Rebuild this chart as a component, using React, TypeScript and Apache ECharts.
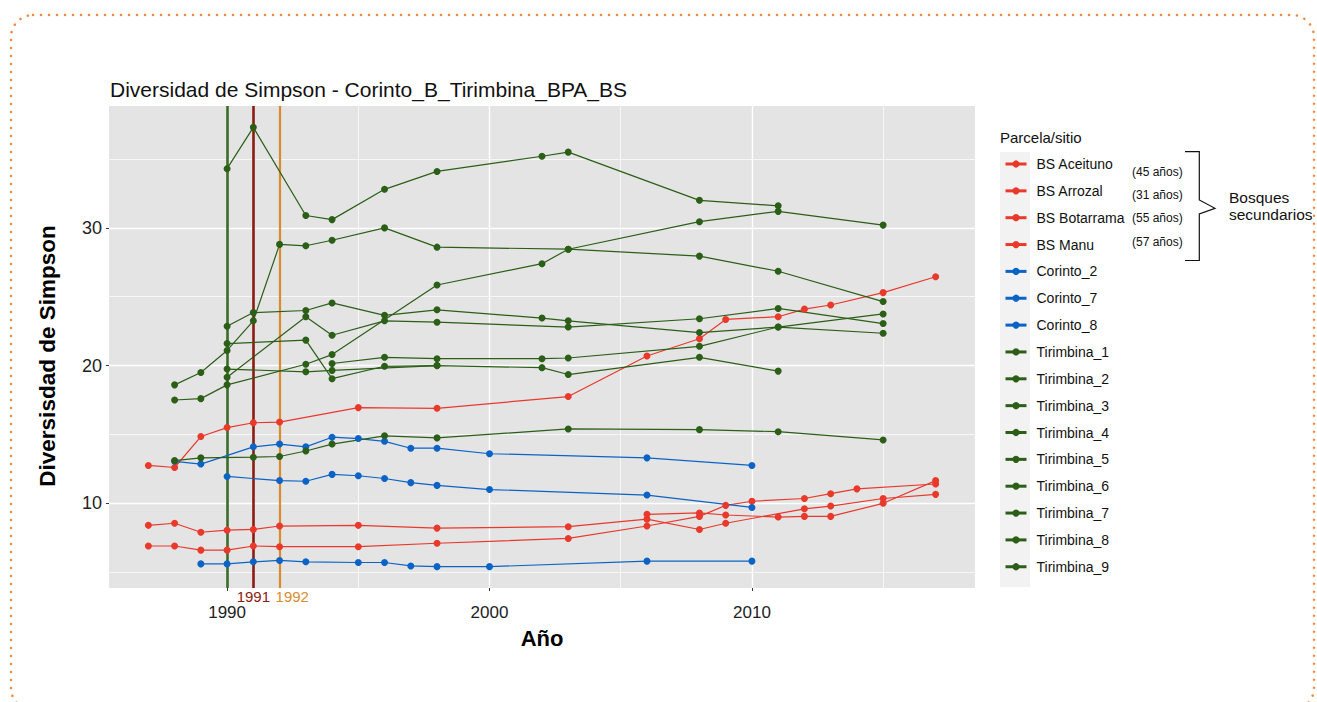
import React, { useEffect, useRef } from 'react';
import * as echarts from 'echarts';

const RED = '#E8392B';
const BLUE = '#0B63C6';
const GREEN = '#2B5E17';
const VGREEN = '#3B6B26';
const VDARKRED = '#8A1C12';
const VORANGE = '#D98C2E';
const FONT = '"Liberation Sans", Arial, sans-serif';

// ---- data ----
const bsAceitunoYears = [1987, 1988, 1989, 1990, 1991, 1992, 1995, 1998, 2003, 2006, 2008, 2009, 2011, 2012, 2013, 2015, 2017];
const bsAceitunoValues = [12.75, 12.6, 14.85, 15.5, 15.85, 15.9, 16.95, 16.9, 17.75, 20.7, 21.95, 23.35, 23.55, 24.1, 24.4, 25.3, 26.45];
const bsArrozalYears = [1987, 1988, 1989, 1990, 1991, 1992, 1995, 1998, 2003, 2006, 2008, 2009, 2012, 2013, 2015, 2017];
const bsArrozalValues = [8.4, 8.55, 7.9, 8.05, 8.1, 8.35, 8.4, 8.2, 8.3, 8.85, 8.1, 8.55, 9.6, 9.8, 10.35, 10.65];
const bsBotarramaYears = [1987, 1988, 1989, 1990, 1991, 1992, 1995, 1998, 2003, 2006, 2008, 2009, 2010, 2012, 2013, 2014, 2017];
const bsBotarramaValues = [6.9, 6.9, 6.6, 6.6, 6.9, 6.85, 6.85, 7.1, 7.45, 8.35, 9.05, 9.85, 10.15, 10.35, 10.7, 11.05, 11.4];
const bsManuYears = [2006, 2008, 2009, 2011, 2012, 2013, 2015, 2017];
const bsManuValues = [9.2, 9.3, 9.15, 9.0, 9.05, 9.05, 10.0, 11.65];

const corinto2Years = [1988, 1989, 1991, 1992, 1993, 1994, 1995, 1996, 1997, 1998, 2000, 2006, 2010];
const corinto2Values = [13.05, 12.85, 14.1, 14.3, 14.1, 14.8, 14.7, 14.5, 14.0, 14.0, 13.6, 13.3, 12.75];
const corinto7Years = [1990, 1992, 1993, 1994, 1995, 1996, 1997, 1998, 2000, 2006, 2010];
const corinto7Values = [11.95, 11.65, 11.6, 12.1, 12.0, 11.8, 11.5, 11.3, 11.0, 10.6, 9.7];
const corinto8Years = [1989, 1990, 1991, 1992, 1993, 1995, 1996, 1997, 1998, 2000, 2006, 2010];
const corinto8Values = [5.6, 5.6, 5.75, 5.85, 5.75, 5.7, 5.7, 5.45, 5.4, 5.4, 5.8, 5.8];

const tir1Years = [1990, 1991, 1993, 1994, 1996, 1998, 2002, 2003, 2008, 2011];
const tir1Values = [34.3, 37.3, 30.9, 30.6, 32.8, 34.1, 35.2, 35.5, 32.0, 31.6];
const tir2Years = [1988, 1989, 1990, 1991, 1992, 1993, 1994, 1996, 1998, 2003, 2008, 2011, 2015];
const tir2Values = [18.6, 19.5, 21.1, 23.25, 28.8, 28.7, 29.1, 30.0, 28.6, 28.45, 27.95, 26.85, 24.65];
const tir3Years = [1990, 1991, 1993, 1994, 1996, 1998, 2002, 2003, 2008, 2011, 2015];
const tir3Values = [22.85, 23.85, 24.0, 24.55, 23.65, 24.05, 23.45, 23.25, 22.4, 22.8, 22.35];
const tir4Years = [1990, 1993, 1994, 1996, 1998, 2003, 2008, 2011, 2015];
const tir4Values = [19.15, 23.55, 22.2, 23.25, 23.15, 22.8, 23.4, 24.15, 23.05];
const tir5Years = [1988, 1989, 1990, 1993, 1994, 1998, 2002, 2003, 2008, 2011, 2015];
const tir5Values = [17.5, 17.6, 18.6, 20.1, 20.8, 25.85, 27.4, 28.45, 30.45, 31.2, 30.2];
const tir6Years = [1990, 1993, 1994, 1998];
const tir6Values = [19.75, 19.55, 19.65, 20.0];
const tir7Years = [1990, 1993, 1994, 1996, 1998, 2002, 2003, 2008, 2011];
const tir7Values = [21.6, 21.85, 19.05, 19.95, 20.0, 19.85, 19.35, 20.6, 19.6];
const tir8Years = [1994, 1996, 1998, 2002, 2003, 2008, 2011, 2015];
const tir8Values = [20.15, 20.6, 20.5, 20.5, 20.55, 21.4, 22.8, 23.75];
const tir9Years = [1988, 1989, 1991, 1992, 1993, 1994, 1996, 1998, 2003, 2008, 2011, 2015];
const tir9Values = [13.1, 13.3, 13.35, 13.4, 13.8, 14.3, 14.9, 14.75, 15.4, 15.35, 15.2, 14.6];

const xMajorTicks = [1990, 2000, 2010];
const xMinorTicks = [1995, 2005, 2015];
const yMajorTicks = [10, 20, 30];
const yMinorTicks = [5, 15, 25, 35];
const eventYears = [1990, 1991, 1992];
const eventLabels = ['', '1991', '1992'];
const ageLabels = ['(45 años)', '(31 años)', '(55 años)', '(57 años)'];

const seriesDefs = [
  { name: 'BS Aceituno', color: RED, years: bsAceitunoYears, values: bsAceitunoValues },
  { name: 'BS Arrozal', color: RED, years: bsArrozalYears, values: bsArrozalValues },
  { name: 'BS Botarrama', color: RED, years: bsBotarramaYears, values: bsBotarramaValues },
  { name: 'BS Manu', color: RED, years: bsManuYears, values: bsManuValues },
  { name: 'Corinto_2', color: BLUE, years: corinto2Years, values: corinto2Values },
  { name: 'Corinto_7', color: BLUE, years: corinto7Years, values: corinto7Values },
  { name: 'Corinto_8', color: BLUE, years: corinto8Years, values: corinto8Values },
  { name: 'Tirimbina_1', color: GREEN, years: tir1Years, values: tir1Values },
  { name: 'Tirimbina_2', color: GREEN, years: tir2Years, values: tir2Values },
  { name: 'Tirimbina_3', color: GREEN, years: tir3Years, values: tir3Values },
  { name: 'Tirimbina_4', color: GREEN, years: tir4Years, values: tir4Values },
  { name: 'Tirimbina_5', color: GREEN, years: tir5Years, values: tir5Values },
  { name: 'Tirimbina_6', color: GREEN, years: tir6Years, values: tir6Values },
  { name: 'Tirimbina_7', color: GREEN, years: tir7Years, values: tir7Values },
  { name: 'Tirimbina_8', color: GREEN, years: tir8Years, values: tir8Values },
  { name: 'Tirimbina_9', color: GREEN, years: tir9Years, values: tir9Values },
];

const eventColors = [VGREEN, VDARKRED, VORANGE];

export default function App() {
  const ref = useRef<HTMLDivElement>(null);
  useEffect(() => {
    if (!ref.current) return;
    const chart = echarts.init(ref.current, undefined, { renderer: 'svg' });

    const gridLines = [
      ...xMajorTicks.map((v) => ({ xAxis: v, lineStyle: { width: 1.4 } })),
      ...xMinorTicks.map((v) => ({ xAxis: v, lineStyle: { width: 0.7 } })),
      ...yMajorTicks.map((v) => ({ yAxis: v, lineStyle: { width: 1.4 } })),
      ...yMinorTicks.map((v) => ({ yAxis: v, lineStyle: { width: 0.7 } })),
    ];

    const dataSeries = seriesDefs.map((s) => ({
      name: s.name,
      type: 'line',
      data: s.years.map((y, i) => [y, s.values[i]]),
      symbol: 'circle',
      symbolSize: 7,
      showSymbol: true,
      z: 5,
      lineStyle: { color: s.color, width: 1.2 },
      itemStyle: { color: s.color },
      emphasis: { disabled: true },
    }));

    const GRID_TOP = 106;
    const GRID_H = 482;

    chart.setOption({
      animation: false,
      textStyle: { fontFamily: FONT },
      title: {
        text: 'Diversidad de Simpson - Corinto_B_Tirimbina_BPA_BS',
        left: 105,
        top: 74,
        textStyle: { fontSize: 21, fontWeight: 'normal', color: '#111', fontFamily: FONT },
      },
      grid: {
        left: 109,
        top: GRID_TOP,
        width: 866,
        height: GRID_H,
        show: true,
        backgroundColor: '#E4E4E4',
        borderWidth: 0,
      },
      xAxis: {
        type: 'value',
        min: 1985.5,
        max: 2018.5,
        name: 'Año',
        nameLocation: 'middle',
        nameGap: 39,
        nameTextStyle: { fontSize: 22, fontWeight: 'bold', color: '#000', fontFamily: FONT },
        axisLine: { show: false },
        splitLine: { show: false },
        axisTick: { show: true, length: 3, customValues: xMajorTicks, lineStyle: { color: '#333' } },
        axisLabel: {
          customValues: xMajorTicks,
          formatter: (v: number) => String(v),
          fontSize: 17,
          color: '#222',
          margin: 16,
          fontFamily: FONT,
        },
      },
      yAxis: {
        type: 'value',
        min: 3.85,
        max: 38.85,
        axisLine: { show: false },
        splitLine: { show: false },
        axisTick: { show: true, length: 3, customValues: yMajorTicks, lineStyle: { color: '#333' } },
        axisLabel: {
          customValues: yMajorTicks,
          formatter: (v: number) => String(v),
          fontSize: 18,
          color: '#222',
          margin: 7,
          fontFamily: FONT,
        },
      },
      legend: {
        data: seriesDefs.map((s) => s.name),
        orient: 'vertical',
        left: 1004,
        top: 157,
        padding: 0,
        itemWidth: 21,
        itemHeight: 9,
        itemGap: 12.85,
        selectedMode: false,
        lineStyle: { width: 3 },
        textStyle: { fontSize: 14, color: '#111', padding: [0, 0, 0, 5], fontFamily: FONT },
      },
      series: [
        {
          name: '__grid',
          type: 'line',
          data: [],
          z: 1,
          silent: true,
          markLine: {
            silent: true,
            symbol: ['none', 'none'],
            label: { show: false },
            emphasis: { disabled: true },
            lineStyle: { color: '#FFFFFF', type: 'solid' },
            data: gridLines,
          },
        },
        {
          name: '__events',
          type: 'line',
          data: [],
          z: 2,
          silent: true,
          markLine: {
            silent: true,
            symbol: ['none', 'none'],
            label: { show: false },
            emphasis: { disabled: true },
            data: eventYears.map((y, i) => ({
              xAxis: y,
              lineStyle: { color: eventColors[i], width: i === 2 ? 2.2 : 2.6, type: 'solid' },
            })),
          },
        },
        ...dataSeries,
      ],
    });

    const bottomY = GRID_TOP + GRID_H;
    const x1991 = chart.convertToPixel({ xAxisIndex: 0 }, 1991) as number;
    const x1992 = chart.convertToPixel({ xAxisIndex: 0 }, 1992) as number;

    const graphics: any[] = [
      {
        type: 'rect',
        z: -10,
        shape: { x: 11, y: 15, width: 1303, height: 695, r: 22 },
        style: { fill: 'none', stroke: '#F0883E', lineWidth: 2.5, lineDash: [0.1, 7.9], lineCap: 'round' },
        silent: true,
      },
      {
        type: 'rect',
        z: -5,
        shape: { x: 1000, y: 152, width: 30, height: 435 },
        style: { fill: '#F2F2F2' },
        silent: true,
      },
      {
        type: 'text',
        x: 47,
        y: 356,
        rotation: Math.PI / 2,
        style: {
          text: 'Diversisdad de Simpson',
          fontSize: 22.5,
          fontWeight: 'bold',
          fill: '#000',
          fontFamily: FONT,
          align: 'center',
          verticalAlign: 'middle',
        },
      },
      {
        type: 'text',
        x: 1000,
        y: 137,
        style: { text: 'Parcela/sitio', fontSize: 15, fill: '#111', fontFamily: FONT, verticalAlign: 'middle' },
      },
      {
        type: 'text',
        x: x1991,
        y: bottomY + 1,
        style: { text: eventLabels[1], fontSize: 15, fill: VDARKRED, fontFamily: FONT, align: 'center', verticalAlign: 'top' },
      },
      {
        type: 'text',
        x: x1992 - 4,
        y: bottomY + 1,
        style: { text: eventLabels[2], fontSize: 15, fill: VORANGE, fontFamily: FONT, align: 'left', verticalAlign: 'top' },
      },
      ...ageLabels.map((t, i) => ({
        type: 'text',
        x: 1132,
        y: 171.5 + i * 23.4,
        style: { text: t, fontSize: 12, fill: '#111', fontFamily: FONT, verticalAlign: 'middle' },
      })),
      {
        type: 'polyline',
        shape: {
          points: [
            [1185, 151.7], [1199.3, 151.7], [1199.3, 200], [1215, 208.3],
            [1199.3, 214], [1199.3, 260.5], [1185, 260.5],
          ],
        },
        style: { stroke: '#111', lineWidth: 1.2, fill: 'none' },
      },
      {
        type: 'text',
        x: 1229,
        y: 197,
        style: { text: 'Bosques', fontSize: 15.5, fill: '#111', fontFamily: FONT, verticalAlign: 'middle' },
      },
      {
        type: 'text',
        x: 1229,
        y: 214.5,
        style: { text: 'secundarios', fontSize: 15.5, fill: '#111', fontFamily: FONT, verticalAlign: 'middle' },
      },
    ];
    chart.setOption({ graphic: graphics });

    return () => chart.dispose();
  }, []);

  return (
    <div
      ref={ref}
      style={{ position: 'fixed', left: 0, top: 0, width: 1317, height: 702, background: '#fff' }}
    />
  );
}
